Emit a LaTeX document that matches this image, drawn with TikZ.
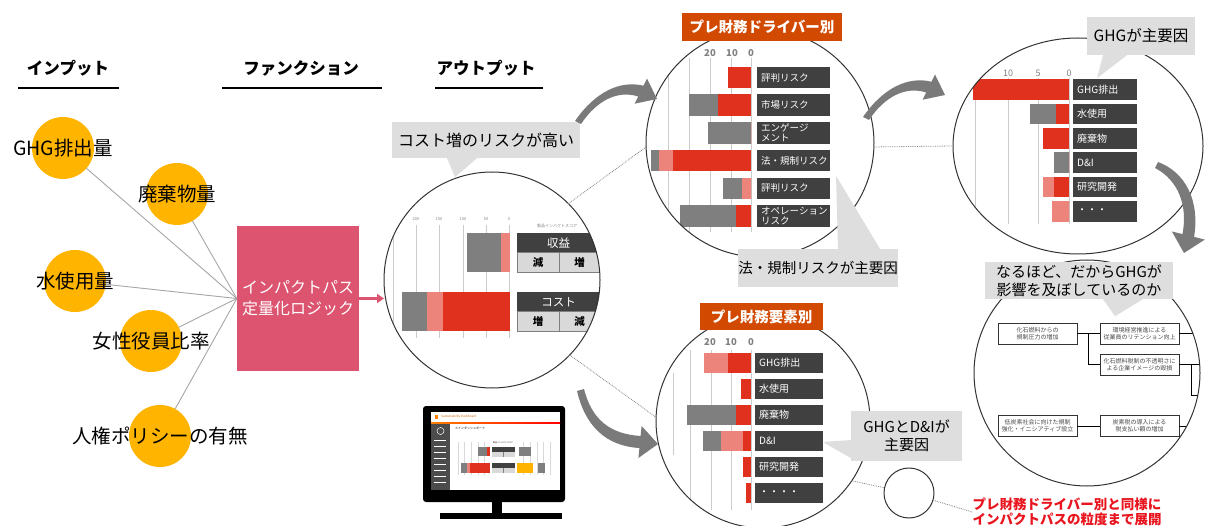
\documentclass[tikz,border=0pt]{standalone}
\usepackage{fontspec}
\setmainfont{Noto Sans CJK JP}
\usetikzlibrary{arrows.meta,shapes.geometric}

\definecolor{inorange}{HTML}{FFB400}
\definecolor{logicpink}{HTML}{DC5470}
\definecolor{barred}{HTML}{E0301E}
\definecolor{barpink}{HTML}{EC847C}
\definecolor{bargray}{HTML}{7F7F7F}
\definecolor{labdark}{HTML}{404040}
\definecolor{callgray}{HTML}{DEDEDE}
\definecolor{titleorange}{HTML}{D24A02}
\definecolor{arrgray}{HTML}{7A7A7A}
\definecolor{notered}{HTML}{E8141E}

\tikzset{
  head/.style={font=\bfseries\fontsize{16.5}{20}\selectfont, inner sep=0pt},
  hline/.style={line width=2pt},
  inbubble/.style={circle, fill=inorange, minimum size=62pt, inner sep=0pt, outer sep=0pt},
  intext/.style={font=\fontsize{19.5}{22}\selectfont, inner sep=0pt},
  feed/.style={draw=gray!70, line width=0.9pt},
  logicbox/.style={rectangle, fill=logicpink, text=white, minimum width=122pt,
    minimum height=145pt, align=center, font=\fontsize{16}{21}\selectfont},
  impact/.style={draw=logicpink, line width=2.5pt, -{Triangle[length=7pt,width=9pt]}},
  zoomc/.style={circle, draw=black!80, line width=1pt, minimum size=#1, inner sep=0pt, outer sep=0pt},
  zoomline/.style={draw=gray, line width=0.8pt, densely dotted},
  call/.style={fill=callgray, align=center, inner sep=0pt, font=\fontsize{#1}{18}\selectfont},
  titlebox/.style={fill=titleorange, text=white, font=\bfseries\fontsize{14.5}{17}\selectfont,
    minimum width=#1, minimum height=28pt, inner sep=0pt},
  rowlab/.style={fill=labdark, text=white, anchor=west, minimum height=20.5pt, text width=#1,
    inner sep=0pt, inner xsep=4pt, align=left, font=\fontsize{9.5}{10}\selectfont},
  gridl/.style={draw=gray!40, line width=1pt},
  tick/.style={text=gray, font=\bfseries\fontsize{9.5}{10}\selectfont, inner sep=0pt},
  tinytick/.style={text=gray, font=\fontsize{4}{4}\selectfont, inner sep=0pt},
  sidehead/.style={fill=labdark, text=white, minimum width=83pt, minimum height=19.5pt,
    inner sep=0pt, anchor=north west, font=\fontsize{11.5}{12}\selectfont},
  sidecell/.style={fill=black!15, draw=bargray, line width=0.8pt, minimum width=41.5pt,
    minimum height=20pt, inner sep=0pt, anchor=north west, font=\bfseries\fontsize{10.5}{11}\selectfont},
  flowbox/.style={draw=black!80, line width=0.7pt, fill=white, minimum width=79pt, minimum height=21pt,
    inner sep=0pt, align=center, font=\fontsize{6}{7}\selectfont, text=black!70},
  bigarrow/.style={fill=arrgray}
}

\begin{document}
\begin{tikzpicture}[x=1pt,y=-1pt,>=Latex]
\useasboundingbox (0,0) rectangle (1215,526);

% column headings
\node[head] (hin) at (68,68) {インプット};
\node[head] (hfn) at (301,68) {ファンクション};
\node[head] (hout) at (486,68) {アウトプット};
\draw[hline] (18,88) -- (119,88);
\draw[hline] (222,88) -- (382,88);
\draw[hline] (435,88) -- (543,88);

% inputs
\node[inbubble, label={[intext,name=ghgt]center:GHG排出量}] (ghg) at (63,148) {};
\node[inbubble, label={[intext,name=wastet]center:廃棄物量}] (waste) at (177,194) {};
\node[inbubble, label={[intext,name=watert]center:水使用量}] (water) at (75,281) {};
\node[inbubble, label={[intext,name=woment]center:女性役員比率}] (women) at (151,341) {};
\node[inbubble, label={[intext,name=rightst]center:人権ポリシーの有無}] (rights) at (160,436) {};

\node[logicbox] (logic) at (298,298.5) {インパクトパス\\定量化ロジック};
\foreach \n in {ghg,waste,water,women,rights}
  \draw[feed] (\n) -- (logic.west);

% output: impact score chart
\coordinate (oc) at (492,280);
\begin{scope}
  \clip (oc) circle (108pt);
  \foreach \x/\t in {416/200,439/150,463/100,486/50,509/0} {
    \draw[gridl] (\x,225) -- (\x,338);
    \node[tinytick] (ot\t) at (\x,219) {\t};
  }
  \draw[gridl] (393,227) -- (393,330);
  \node[tinytick] (oscore) at (557,226) {製品インパクトスコア};
  \fill[bargray] (467,233) rectangle (501,272);
  \fill[barpink] (501,233) rectangle (510,272);
  \fill[bargray] (402,292) rectangle (427,331);
  \fill[barpink] (427,292) rectangle (443,331);
  \fill[barred] (443,292) rectangle (510,331);
  \node[sidehead] (rev) at (517,233) {収益};
  \node[sidecell] (revdn) at (517,252.5) {減};
  \node[sidecell] (revup) at (558.5,252.5) {増};
  \node[sidehead] (cost) at (517,292) {コスト};
  \node[sidecell] (costup) at (517,311.5) {増};
  \node[sidecell] (costdn) at (558.5,311.5) {減};
\end{scope}
\node[zoomc=216pt] (outc) at (oc) {};
\draw[impact] (logic.east) -- (logic.east -| outc.west);

% dashboard monitor
\fill[black, rounded corners=3pt] (423,406) rectangle (565,502);
\fill[white] (431,412) rectangle (560,490);
\fill[black] (492,502) rectangle (502,514);
\fill[black] (440,513) rectangle (562,519);
\fill[orange] (435,415) rectangle (438,419);
\node[anchor=west, text=orange!80!black, font=\fontsize{3}{3}\selectfont, inner sep=0pt] (mtitle) at (441,417) {Sustainability Dashboard};
\shade[left color=orange, right color=red] (431,422) rectangle (560,423.5);
\fill[black!70] (431,424) rectangle (450,490);
\draw[white, line width=0.5pt] (440.5,431) circle (3.5pt);
\foreach \y in {440,446,452,458,464,470,476,482}
  \draw[white, line width=0.6pt] (434,\y) -- (446,\y);
\node[anchor=west, font=\fontsize{3}{3}\selectfont, inner sep=0pt] (mmain) at (455,428) {メインダッシュボード};
\node[font=\fontsize{2}{2}\selectfont, inner sep=0pt] (mscore) at (503,443) {製品インパクトスコア};
\foreach \x in {458,464,471,478,484,523,530,537,543,550}
  \draw[gray!30, line width=0.4pt] (\x,442) -- (\x,475);
\fill[bargray] (478,447) rectangle (487,456);
\fill[barred] (487,447) rectangle (490,456);
\fill[bargray] (519,447) rectangle (531,456);
\fill[bargray] (461,463) rectangle (467,473);
\fill[barpink] (467,463) rectangle (470,473);
\fill[barred] (470,463) rectangle (490,473);
\fill[inorange] (517,463) rectangle (533,473);
\fill[bargray] (538,463) rectangle (545,473);
\foreach \y in {447,463} {
  \fill[labdark] (492,\y) rectangle (515,\y+4.5);
  \fill[black!15] (492,\y+4.5) rectangle (515,\y+10);
  \draw[bargray, line width=0.3pt] (503.5,\y+4.5) -- (503.5,\y+10);
}

% pre-financial drivers
\coordinate (dc) at (760,143);
\begin{scope}
  \clip (dc) circle (114pt);
  \foreach \x in {668,689,710,731,751}
    \draw[gridl] (\x,58) -- (\x,232);
  \foreach \lab/\g/\p/\r [count=\i] in {評判リスク/728/728/728, 市場リスク/689/718/718,
      {エンゲージ\\メント}/708/751/751, 法・規制リスク/651/659/673,
      評判リスク/723/742/751, {オペレーション\\リスク}/680/736/736} {
    \pgfmathsetmacro\yc{77.5+27.7*(\i-1)}
    \fill[bargray] (\g,\yc-10.75) rectangle (\p,\yc+10.75);
    \fill[barpink] (\p,\yc-10.75) rectangle (\r,\yc+10.75);
    \fill[barred] (\r,\yc-10.75) rectangle (751,\yc+10.75);
    \node[rowlab=65pt, minimum height=21.5pt] (drv\i) at (757,\yc) {\lab};
  }
\end{scope}
\node[tick] (dt20) at (710,53) {20};
\node[tick] (dt10) at (732,53) {10};
\node[tick] (dt0) at (751,53) {0};
\node[zoomc=228pt] (drvc) at (dc) {};
\node[titlebox=160pt] (drvt) at (762,27) {プレ財務ドライバー別};

% pre-financial elements
\coordinate (lc) at (763,421);
\begin{scope}
  \clip (lc) circle (107pt);
  \foreach \x in {690,711,731,751}
    \draw[gridl] (\x,350) -- (\x,510);
  \draw[gridl] (673,373) -- (673,455);
  \foreach \lab/\g/\p/\r [count=\i] in {GHG排出/704/704/728, 水使用/741/741/741,
      廃棄物/687/736/736, D\&I/703/721/743, 研究開発/743/743/743, ・・・・/746/746/746} {
    \pgfmathsetmacro\yc{363+26*(\i-1)}
    \fill[bargray] (\g,\yc-10.25) rectangle (\p,\yc+10.25);
    \fill[barpink] (\p,\yc-10.25) rectangle (\r,\yc+10.25);
    \fill[barred] (\r,\yc-10.25) rectangle (751,\yc+10.25);
    \node[rowlab=60pt, font=\fontsize{10}{10}\selectfont] (elm\i) at (755,\yc) {\lab};
  }
\end{scope}
\node[tick] (et20) at (710,342) {20};
\node[tick] (et10) at (731,342) {10};
\node[tick] (et0) at (751,342) {0};
\node[zoomc=214pt] (low) at (lc) {};
\node[titlebox=123pt, minimum height=27pt] (elmt) at (761.5,316.5) {プレ財務要素別};

% drill-down of the GHG driver
\coordinate (rc) at (1078,146);
\begin{scope}
  \clip (rc) ellipse (125pt and 108pt);
  \foreach \x in {975,1008,1038,1069}
    \draw[gridl] (\x,78) -- (\x,224);
  \foreach \lab/\g/\p/\r [count=\i] in {GHG排出/973/973/973, 水使用/1030/1056/1056,
      廃棄物/1043/1043/1043, D\&I/1054/1069/1069, 研究開発/1043/1043/1054, ・・・/1052/1052/1069} {
    \pgfmathsetmacro\yc{89.5+24.4*(\i-1)}
    \fill[bargray] (\g,\yc-10.25) rectangle (\p,\yc+10.25);
    \fill[barpink] (\p,\yc-10.25) rectangle (\r,\yc+10.25);
    \fill[barred] (\r,\yc-10.25) rectangle (1069,\yc+10.25);
    \node[rowlab=56pt, font=\fontsize{10}{10}\selectfont] (rgt\i) at (1073,\yc) {\lab};
  }
\end{scope}
\node[tick, font=\fontsize{9}{10}\selectfont] (rt10) at (1008,73) {10};
\node[tick, font=\fontsize{9}{10}\selectfont] (rt5) at (1038,73) {5};
\node[tick, font=\fontsize{9}{10}\selectfont] (rt0) at (1069,73) {0};
\node[ellipse, draw=black!80, line width=1pt, minimum width=250pt, minimum height=216pt,
  inner sep=0pt, outer sep=0pt] (rgt) at (rc) {};

% impact path behind GHG
\coordinate (pc) at (1087,373);
\begin{scope}
  \clip (pc) circle (113pt);
  \node[flowbox] (fa) at (1037.5,333.5) {化石燃料からの\\規制圧力の増加};
  \node[flowbox] (fb) at (1139.5,333.5) {環境経営推進による\\従業員のリテンション向上};
  \node[flowbox] (fc) at (1139.5,364.5) {化石燃料税制の不透明さに\\よる企業イメージの毀損};
  \node[flowbox] (fd) at (1037.5,426) {低炭素社会に向けた規制\\強化・イニシアティブ設立};
  \node[flowbox] (fe) at (1139.5,426) {炭素税の導入による\\税支払い額の増加};
  \draw[line width=0.7pt] (fa) -- (fb);
  \draw[line width=0.7pt] ([xshift=11pt]fa.east) |- (fc.west);
  \draw[line width=0.7pt] (fb.east) -- ++(30,0);
  \draw[line width=0.7pt] (fc.east) -- ++(30,0);
  \draw[line width=0.7pt] ([xshift=12pt]fc.east) -- ++(0,31) -- ++(20,0);
  \draw[line width=0.7pt] (fd) -- (fe);
  \draw[line width=0.7pt] (fe.east) -- ++(30,0);
\end{scope}
\node[zoomc=226pt] (path) at (pc) {};

% zoom lines
\draw[zoomline] (outc.45) -- (drvc.182);
\draw[zoomline] (outc.-44) -- (low.178);
\draw[zoomline] (drvc.-2) -- (rgt.west);
\node[circle, draw=black!80, line width=1pt, minimum size=50pt, inner sep=0pt] (magc) at (909,493) {};
\node[text=notered, font=\bfseries\fontsize{13.5}{15}\selectfont, align=center, inner sep=0pt]
  (note) at (1067,512) {プレ財務ドライバー別と同様に\\インパクトパスの粒度まで展開};
\draw[zoomline] (low.-34) -- (magc);
\draw[zoomline] (magc) -- (note.west);

% callouts
\node[call=16, minimum width=188pt, minimum height=36pt] (ccost) at (486,140) {コスト増のリスクが高い};
\fill[callgray] ([xshift=-39pt]ccost.south) -- ([xshift=-31pt,yshift=-19pt]ccost.south) -- ([xshift=-9pt]ccost.south) -- cycle;
\node[call=14.5, minimum width=160pt, minimum height=38pt] (claw) at (818,268) {法・規制リスクが主要因};
\fill[callgray] ([xshift=20pt]claw.north) -- ([xshift=18pt,yshift=73pt]claw.north) -- ([xshift=62pt]claw.north) -- cycle;
\node[call=15.5, minimum width=108pt, minimum height=38pt] (cghg) at (1141,36) {GHGが主要因};
\fill[callgray] ([xshift=-38pt]cghg.south) -- ([xshift=-44pt,yshift=-23pt]cghg.south) -- ([xshift=-14pt]cghg.south) -- cycle;
\node[call=15, minimum width=188pt, minimum height=37pt] (caha) at (1079,280.5) {なるほど、だからGHGが\\影響を及ぼしているのか};
\fill[callgray] ([xshift=24pt]caha.south) -- ([xshift=36pt,yshift=-17pt]caha.south) -- ([xshift=64pt]caha.south) -- cycle;
\node[call=15, minimum width=111pt, minimum height=50pt] (cdi) at (906.5,436) {GHGとD\&Iが\\主要因};
\fill[callgray] ([yshift=-4pt]cdi.west) -- ([xshift=-28pt,yshift=-6pt]cdi.west) -- ([yshift=-22pt]cdi.west) -- cycle;

% curved arrows, tapering from tail to head
\fill[bigarrow] (575,121) .. controls (595,92) and (620,80) .. (643.4,85.7) -- (647,78.5) -- (657,99)
  -- (634.6,103.7) -- (638.2,96.5) .. controls (618,90) and (597,100) .. (581,124) -- cycle;
\fill[bigarrow] (863,117) .. controls (883,88) and (908,76) .. (931.4,81.7) -- (935,74.5) -- (945,95)
  -- (922.6,99.7) -- (926.2,92.5) .. controls (906,86) and (885,96) .. (869,120) -- cycle;
\fill[bigarrow] (1158,162) .. controls (1185,172) and (1200,200) .. (1194.1,236.9) -- (1204.8,239.6) -- (1184,253)
  -- (1171.8,231.4) -- (1182.5,234.1) .. controls (1188,205) and (1178,180) .. (1155,168) -- cycle;
\fill[bigarrow] (577,391) .. controls (585,425) and (605,446) .. (639.4,448) -- (638.4,458) -- (658,444)
  -- (641.6,426) -- (640.6,436) .. controls (610,434) and (592,420) .. (584,389) -- cycle;
\end{tikzpicture}
\end{document}
